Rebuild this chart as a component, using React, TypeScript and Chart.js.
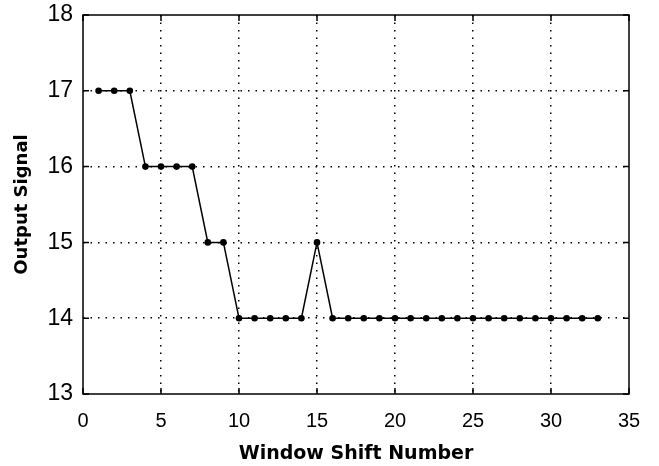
import React, { useEffect, useRef } from "react";
import { Chart, registerables } from "chart.js";
Chart.register(...registerables);

const shiftNumbers = [1,2,3,4,5,6,7,8,9,10,11,12,13,14,15,16,17,18,19,20,21,22,23,24,25,26,27,28,29,30,31,32,33];
const outputSignal = [17,17,17,16,16,16,16,15,15,14,14,14,14,14,15,14,14,14,14,14,14,14,14,14,14,14,14,14,14,14,14,14,14];
const xTicks = [0,5,10,15,20,25,30,35];
const yTicks = [13,14,15,16,17,18];
const xTitle = "Window Shift Number";
const yTitle = "Output Signal";

const boxPlugin = {
  id: "box",
  afterDraw(chart: any) {
    const { ctx, chartArea: a, scales } = chart;
    ctx.save();
    ctx.strokeStyle = "#000";
    ctx.lineWidth = 1.5;
    ctx.strokeRect(a.left, a.top, a.right - a.left, a.bottom - a.top);
    const L = 6;
    ctx.beginPath();
    for (const v of xTicks) {
      const px = scales.x.getPixelForValue(v);
      ctx.moveTo(px, a.bottom); ctx.lineTo(px, a.bottom - L);
      ctx.moveTo(px, a.top); ctx.lineTo(px, a.top + L);
    }
    for (const v of yTicks) {
      const py = scales.y.getPixelForValue(v);
      ctx.moveTo(a.left, py); ctx.lineTo(a.left + L, py);
      ctx.moveTo(a.right, py); ctx.lineTo(a.right - L, py);
    }
    ctx.stroke();
    ctx.restore();
  },
};

export default function App() {
  const ref = useRef<HTMLCanvasElement>(null);
  useEffect(() => {
    const chart = new Chart(ref.current!, {
      type: "line",
      data: {
        datasets: [
          {
            data: shiftNumbers.map((x, i) => ({ x, y: outputSignal[i] })),
            borderColor: "#000",
            backgroundColor: "#000",
            borderWidth: 1.5,
            pointRadius: 3.3,
            pointStyle: "circle",
            pointBackgroundColor: "#000",
            pointBorderWidth: 0,
            tension: 0,
          },
        ],
      },
      options: {
        animation: false,
        responsive: false,
        layout: { padding: { top: 15, right: 30, left: 0, bottom: 0 } },
        plugins: { legend: { display: false }, tooltip: { enabled: false } },
        scales: {
          x: {
            type: "linear",
            min: 0,
            max: 35,
            afterBuildTicks: (s: any) => { s.ticks = xTicks.map((v) => ({ value: v })); },
            afterFit: (s: any) => { s.height = 72; s.paddingLeft = 0; s.paddingRight = 0; },
            grid: {
              color: "#000",
              lineWidth: (c: any) => (c.tick && (c.tick.value === 0 || c.tick.value === 35) ? 0 : 1.5),
              drawTicks: false,
            },
            border: { display: false, dash: [1.5, 6] },
            ticks: { color: "#000", font: { family: "Liberation Sans", size: 20 }, padding: 15, maxRotation: 0 },
            title: { display: true, text: xTitle, color: "#000", font: { family: "DejaVu Sans", size: 19, weight: "bold" }, padding: { top: 4, bottom: 1 } },
          },
          y: {
            type: "linear",
            min: 13,
            max: 18,
            afterBuildTicks: (s: any) => { s.ticks = yTicks.map((v) => ({ value: v })); },
            afterFit: (s: any) => { s.width = 83; s.paddingTop = 0; s.paddingBottom = 0; },
            grid: {
              color: "#000",
              lineWidth: (c: any) => (c.tick && (c.tick.value === 13 || c.tick.value === 18) ? 0 : 1.5),
              drawTicks: false,
            },
            border: { display: false, dash: [1.5, 6] },
            ticks: { color: "#000", font: { family: "Liberation Sans", size: 23 }, padding: 10 },
            title: { display: true, text: yTitle, color: "#000", font: { family: "DejaVu Sans", size: 18, weight: "bold" }, padding: { top: 12, bottom: 2 } },
          },
        },
      },
      plugins: [boxPlugin],
    } as any);
    return () => chart.destroy();
  }, []);
  return (
    <div style={{ position: "fixed", left: 0, top: 0, width: 659, height: 466, background: "#fff" }}>
      <canvas ref={ref} width={659} height={466} />
    </div>
  );
}
